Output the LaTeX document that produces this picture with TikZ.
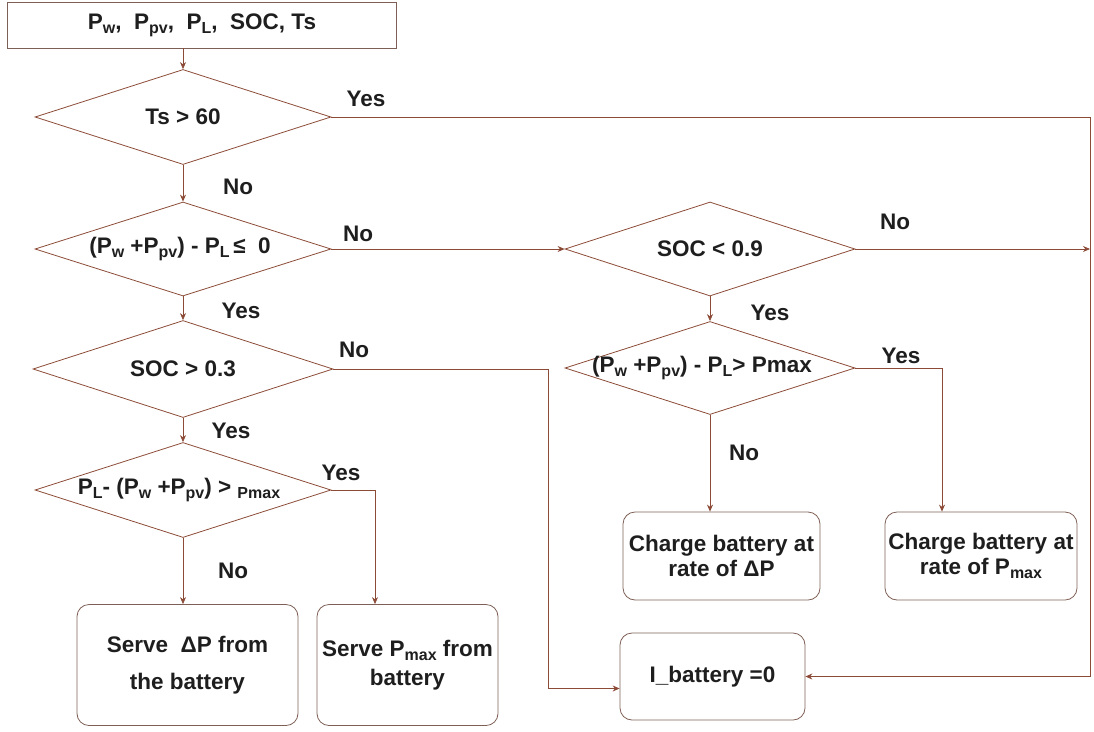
\documentclass[tikz,border=0pt]{standalone}
\usepackage{fontspec}
\setmainfont{Liberation Sans}
\usetikzlibrary{shapes.geometric,arrows.meta,calc}
\definecolor{ln}{RGB}{140,75,55}
\definecolor{bx}{RGB}{125,95,85}
\definecolor{tx}{RGB}{30,30,30}
\newcommand\sbs[1]{\raisebox{-0.35ex}{\fontsize{16}{16}\selectfont #1}}
\begin{document}
\begin{tikzpicture}[x=1pt,y=-1pt,
  font=\fontsize{22.5}{25}\selectfont\bfseries, text=tx,
  dia/.style={draw=ln, line width=0.8pt, shape=diamond, inner sep=0pt, minimum width=296pt, minimum height=95pt},
  rbox/.style={draw=bx, line width=0.8pt, rounded corners=12pt, align=center, inner sep=2pt},
  arr/.style={draw=ln, line width=0.8pt, -{Stealth[length=7pt,width=6pt]}},
  con/.style={draw=ln, line width=0.8pt},
  lab/.style={inner sep=0pt}]
\useasboundingbox (0,0) rectangle (1094,731);

% boxes
\node[draw=bx, line width=0.8pt, minimum width=389pt, minimum height=46pt, inner sep=0pt] (start) at (202,25)
  {P\sbs{w},\ \ P\sbs{pv},\ \ P\sbs{L},\ \ SOC, Ts};
\node[dia, label=center:{Ts > 60}] (d1) at (183,117) {};
\node[dia, minimum height=94pt, label={[xshift=-3pt]center:{(P\sbs{w} +P\sbs{pv}) - P\sbs{L}\,≤\ \ 0}}] (d2) at (183,249) {};
\node[dia, minimum width=300pt, minimum height=97pt, label=center:{SOC > 0.3}] (d3) at (183,369) {};
\node[dia, label={[xshift=-4pt]center:{P\sbs{L}- (P\sbs{w} +P\sbs{pv}) > \sbs{Pmax}}}] (d4) at (183,490) {};
\node[dia, minimum width=290pt, minimum height=94pt, label=center:{SOC < 0.9}] (d5) at (710,249) {};
\node[dia, minimum width=290pt, minimum height=93pt, label={[xshift=-8pt]center:{(P\sbs{w} +P\sbs{pv}) - P\sbs{L}> Pmax}}] (d6) at (710,368) {};

\node[rbox, minimum width=221pt, minimum height=121pt, font=\fontsize{22.5}{37}\selectfont\bfseries] (sdp) at (187.5,665) {Serve\ \ ΔP from\\the battery};
\node[rbox, minimum width=181pt, minimum height=121pt, font=\fontsize{22.5}{29}\selectfont\bfseries] (spm) at (407.5,665) {Serve P\sbs{max} from\\battery};
\node[rbox, minimum width=185pt, minimum height=87pt] (ibat) at (712.5,676.5) {I\_battery =0};
\node[rbox, minimum width=197pt, minimum height=88pt, font=\fontsize{22.5}{25}\selectfont\bfseries] (cdp) at (721.5,556) {Charge battery at\\rate of ΔP};
\node[rbox, minimum width=192pt, minimum height=88pt, font=\fontsize{22.5}{25}\selectfont\bfseries] (cpm) at (981,556) {Charge battery at\\rate of P\sbs{max}};

% helper coordinates
\coordinate (c1) at (1090,117);
\coordinate (c2) at (942,368);
\coordinate (c3) at (548,369);
\coordinate (c4) at (375,490);

% connectors
\draw[arr] (start.south -| d1.north) -- (d1.north);
\draw[arr] (d1.south) -- (d2.north);
\draw[arr] (d2.south) -- (d3.north);
\draw[arr] (d3.south) -- (d4.north);
\draw[arr] (d4.south) -- (d4.south |- sdp.north);
\draw[arr] (d4.east) -- (c4) -- (c4 |- spm.north);
\draw[arr] (d3.east) -- (c3) |- ([yshift=-12pt]ibat.west);
\draw[arr] (d2.east) -- (d5.west);
\draw[arr] (d5.east) -- (d5.east -| c1);
\draw[arr] (d1.east) -- (c1) |- (ibat.east);
\draw[arr] (d5.south) -- (d6.north);
\draw[arr] (d6.south) -- (d6.south |- cdp.north);
\draw[arr] (d6.east) -- (c2) -- (c2 |- cpm.north);

% labels
\node[lab] (l1) at (366,99) {Yes};
\node[lab] (l2) at (238,187) {No};
\node[lab] (l3) at (358,234) {No};
\node[lab] (l4) at (241,311) {Yes};
\node[lab] (l5) at (354,350) {No};
\node[lab] (l6) at (231,431) {Yes};
\node[lab] (l7) at (341,473) {Yes};
\node[lab] (l8) at (233,571) {No};
\node[lab] (l9) at (895,222) {No};
\node[lab] (l10) at (770,313) {Yes};
\node[lab] (l11) at (901,356) {Yes};
\node[lab] (l12) at (744,453) {No};
\end{tikzpicture}
\end{document}
